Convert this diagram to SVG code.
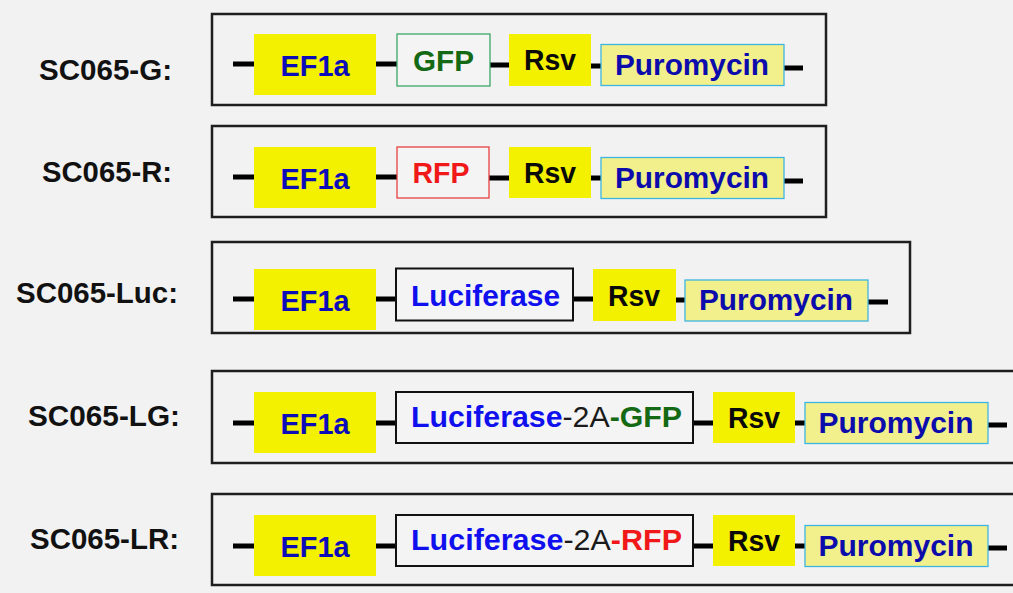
<svg xmlns="http://www.w3.org/2000/svg" width="1013" height="593" viewBox="0 0 1013 593">
<style>
.bg{fill:#f2f2f2}
.frame{fill:none;stroke:#1e1e1e;stroke-width:2.5}
.lbl{font-family:"Liberation Sans",Arial,sans-serif;font-weight:bold;font-size:29px;fill:#111;text-anchor:end}
.ef{fill:#f3f000}
.rsv{fill:#f3f000}
.puro{fill:#f2f08c;stroke:#3cb6e0;stroke-width:1.3}
.gfpbox{fill:#f4f4f4;stroke:#3aa864;stroke-width:1.3}
.rfpbox{fill:#f4f4f4;stroke:#e84040;stroke-width:1.3}
.lucbox{fill:#f4f4f4;stroke:#111;stroke-width:2}
.t{font-family:"Liberation Sans",Arial,sans-serif;font-size:30px;text-anchor:middle}
.b{font-weight:bold}
.tef{fill:#0c0cb8}
.tpuro{fill:#0c0cac}
.trsv{fill:#0a0a0a}
.tgfp{fill:#146a14}
.trfp{fill:#f01818}
.tluc{fill:#1010ee}
.t2a{fill:#1a1a1a;font-weight:normal}
.link{stroke:#000;stroke-width:5;fill:none}
</style>
<rect class="bg" x="0" y="0" width="1013" height="593"/>

<g id="frames">
<rect class="frame" x="212" y="14" width="614" height="91"/>
<rect class="frame" x="212" y="126" width="614" height="91"/>
<rect class="frame" x="212" y="242" width="698" height="91"/>
<rect class="frame" x="212" y="371" width="810" height="92"/>
<rect class="frame" x="212" y="494" width="810" height="91"/>
</g>

<g id="labels">
<text class="lbl" x="172" y="80" textLength="133" lengthAdjust="spacingAndGlyphs">SC065-G:</text>
<text class="lbl" x="172" y="182" textLength="130" lengthAdjust="spacingAndGlyphs">SC065-R:</text>
<text class="lbl" x="178" y="303" textLength="162" lengthAdjust="spacingAndGlyphs">SC065-Luc:</text>
<text class="lbl" x="180" y="426" textLength="152" lengthAdjust="spacingAndGlyphs">SC065-LG:</text>
<text class="lbl" x="179" y="549" textLength="149" lengthAdjust="spacingAndGlyphs">SC065-LR:</text>
</g>

<g id="connectors">
<line class="link" x1="233" y1="64" x2="254" y2="64"/>
<line class="link" x1="376" y1="64" x2="397" y2="64"/>
<line class="link" x1="490" y1="65" x2="509" y2="65"/>
<line class="link" x1="591" y1="66" x2="601" y2="66"/>
<line class="link" x1="784" y1="68" x2="803" y2="68"/>
<line class="link" x1="233" y1="177" x2="254" y2="177"/>
<line class="link" x1="376" y1="177" x2="397" y2="177"/>
<line class="link" x1="489" y1="178" x2="509" y2="178"/>
<line class="link" x1="591" y1="178" x2="601" y2="178"/>
<line class="link" x1="784" y1="181" x2="803" y2="181"/>
<line class="link" x1="233" y1="299" x2="254" y2="299"/>
<line class="link" x1="376" y1="299" x2="396" y2="299"/>
<line class="link" x1="573" y1="299" x2="593" y2="299"/>
<line class="link" x1="676" y1="300" x2="685" y2="300"/>
<line class="link" x1="868" y1="302" x2="888" y2="302"/>
<line class="link" x1="233" y1="423" x2="254" y2="423"/>
<line class="link" x1="376" y1="423" x2="396" y2="423"/>
<line class="link" x1="693" y1="423" x2="713" y2="423"/>
<line class="link" x1="795" y1="423" x2="805" y2="423"/>
<line class="link" x1="988" y1="425" x2="1007" y2="425"/>
<line class="link" x1="233" y1="546" x2="254" y2="546"/>
<line class="link" x1="376" y1="546" x2="396" y2="546"/>
<line class="link" x1="693" y1="546" x2="713" y2="546"/>
<line class="link" x1="795" y1="546" x2="805" y2="546"/>
<line class="link" x1="988" y1="548" x2="1007" y2="548"/>
</g>

<g id="g-ef1a"><rect class="ef" x="254" y="34" width="122" height="61"/><text class="t b tef" x="315" y="76" textLength="69" lengthAdjust="spacingAndGlyphs">EF1a</text></g>
<g id="g-gfp"><rect class="gfpbox" x="397" y="34" width="93" height="52"/><text class="t b tgfp" x="443.5" y="71" textLength="61" lengthAdjust="spacingAndGlyphs">GFP</text></g>
<g id="g-rsv"><rect class="rsv" x="509" y="34" width="82" height="52"/><text class="t b trsv" x="550" y="70" textLength="52" lengthAdjust="spacingAndGlyphs">Rsv</text></g>
<g id="g-puro"><rect class="puro" x="601" y="44.5" width="183" height="41"/><text class="t b tpuro" x="692" y="75" textLength="154" lengthAdjust="spacingAndGlyphs">Puromycin</text></g>

<g id="r-ef1a"><rect class="ef" x="254" y="147" width="122" height="61"/><text class="t b tef" x="315" y="189" textLength="69" lengthAdjust="spacingAndGlyphs">EF1a</text></g>
<g id="r-rfp"><rect class="rfpbox" x="397" y="147" width="92" height="51"/><text class="t b trfp" x="441" y="183" textLength="57" lengthAdjust="spacingAndGlyphs">RFP</text></g>
<g id="r-rsv"><rect class="rsv" x="509" y="147" width="82" height="51"/><text class="t b trsv" x="550" y="183" textLength="52" lengthAdjust="spacingAndGlyphs">Rsv</text></g>
<g id="r-puro"><rect class="puro" x="601" y="157.5" width="183" height="41"/><text class="t b tpuro" x="692" y="188" textLength="154" lengthAdjust="spacingAndGlyphs">Puromycin</text></g>

<g id="luc-ef1a"><rect class="ef" x="254" y="269" width="122" height="61"/><text class="t b tef" x="315" y="311" textLength="69" lengthAdjust="spacingAndGlyphs">EF1a</text></g>
<g id="luc-luc"><rect class="lucbox" x="396" y="268.5" width="177" height="52"/><text class="t b tluc" x="485.5" y="306" textLength="149" lengthAdjust="spacingAndGlyphs">Luciferase</text></g>
<g id="luc-rsv"><rect class="rsv" x="593" y="269" width="83" height="52"/><text class="t b trsv" x="634" y="306" textLength="52" lengthAdjust="spacingAndGlyphs">Rsv</text></g>
<g id="luc-puro"><rect class="puro" x="685" y="280" width="183" height="41"/><text class="t b tpuro" x="776" y="310" textLength="154" lengthAdjust="spacingAndGlyphs">Puromycin</text></g>

<g id="lg-ef1a"><rect class="ef" x="254" y="392" width="122" height="61"/><text class="t b tef" x="315" y="434" textLength="69" lengthAdjust="spacingAndGlyphs">EF1a</text></g>
<g id="lg-luc"><rect class="lucbox" x="396" y="392" width="297" height="51"/><text class="t b" x="546.5" y="427" textLength="271" lengthAdjust="spacingAndGlyphs"><tspan class="tluc">Luciferase</tspan><tspan class="t2a">-2A</tspan><tspan class="tgfp">-GFP</tspan></text></g>
<g id="lg-rsv"><rect class="rsv" x="713" y="392" width="82" height="51"/><text class="t b trsv" x="754" y="428" textLength="52" lengthAdjust="spacingAndGlyphs">Rsv</text></g>
<g id="lg-puro"><rect class="puro" x="805" y="402.5" width="183" height="41"/><text class="t b tpuro" x="896" y="433" textLength="155" lengthAdjust="spacingAndGlyphs">Puromycin</text></g>

<g id="lr-ef1a"><rect class="ef" x="254" y="515" width="122" height="61"/><text class="t b tef" x="315" y="557" textLength="69" lengthAdjust="spacingAndGlyphs">EF1a</text></g>
<g id="lr-luc"><rect class="lucbox" x="396" y="515" width="297" height="51"/><text class="t b" x="546.5" y="550" textLength="271" lengthAdjust="spacingAndGlyphs"><tspan class="tluc">Luciferase</tspan><tspan class="t2a">-2A</tspan><tspan class="trfp">-RFP</tspan></text></g>
<g id="lr-rsv"><rect class="rsv" x="713" y="515" width="82" height="51"/><text class="t b trsv" x="754" y="551" textLength="52" lengthAdjust="spacingAndGlyphs">Rsv</text></g>
<g id="lr-puro"><rect class="puro" x="805" y="525.5" width="183" height="41"/><text class="t b tpuro" x="896" y="556" textLength="155" lengthAdjust="spacingAndGlyphs">Puromycin</text></g>
</svg>
